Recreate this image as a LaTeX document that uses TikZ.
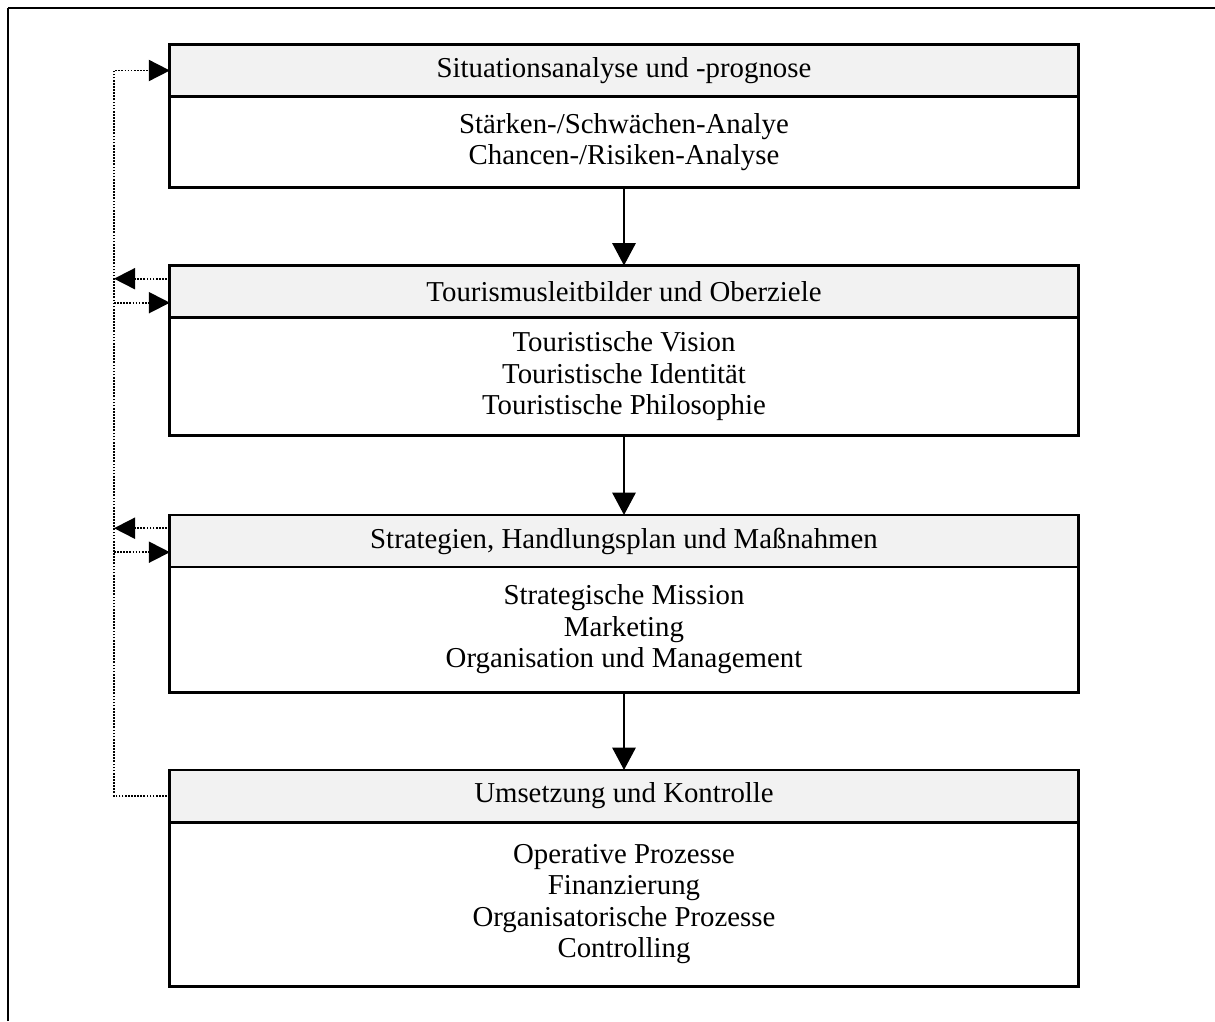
\documentclass[tikz,border=0pt]{standalone}
\usepackage{fontspec}
\setmainfont{Liberation Serif}
\usetikzlibrary{arrows.meta}
\usetikzlibrary{positioning}
\tikzset{
	%	box/.style={rectangle,draw,thick},
	head/.style={rectangle,draw,line width=2.1pt,fill=gray!10,outer sep=0pt,minimum width=22.7cm,minimum height=1.3cm,font=\fontsize{20.5}{22.4}\selectfont},
	body/.style={rectangle,draw,line width=2.1pt,outer sep=0pt,minimum width=22.7cm,align=center,font=\fontsize{20.5}{22.4}\selectfont},
	flow/.style={-{Triangle[length=16pt,width=16.5pt]},line width=2pt},
	back/.style={-{Triangle[length=15pt,width=15pt]},line width=1.3pt,dash pattern=on 1.2pt off 1pt}
}

\begin{document}
\begin{tikzpicture}[x=0.025cm,y=-0.025cm]
	\useasboundingbox (0,0) rectangle (1215,1021);
	\draw[line width=1.4pt] (8,1021) -- (8,8);
	\draw[line width=2pt] (8,8) -- (1215,8);
	
	\node[head] (sit) at (624,70.5) {Situationsanalyse und -prognose};
	\node[body,minimum height=2.275cm,below=0pt of sit] (sitbody) {Stärken-/Schwächen-Analye\\Chancen-/Risiken-Analyse};
	
	\node[head] (tour) at (624,291.5) {Tourismusleitbilder und Oberziele};
	\node[body,minimum height=2.94cm,below=0pt of tour] (tourbody) {Touristische Vision\\Touristische Identität\\Touristische Philosophie};
	
	\node[head] (strat) at (624,541) {Strategien, Handlungsplan und Maßnahmen};
	\node[body,minimum height=3.125cm,below=0pt of strat] (stratbody) {Strategische Mission\\Marketing\\Organisation und Management};
	
	\node[head] (umse) at (624,796) {Umsetzung und Kontrolle};
	\node[body,minimum height=4.1cm,below=0pt of umse] (umsebody) {Operative Prozesse\\Finanzierung\\Organisatorische Prozesse\\Controlling};
	
	\draw[flow] (sitbody) -- (tour);
	\draw[flow] (tourbody) -- (strat);
	\draw[flow] (stratbody) -- (umse);
	
	% Rueckkopplung
	\coordinate (rail) at (114,70.5);
	\coordinate (tourout) at ([yshift=3.2mm]tour.west);
	\coordinate (tourin) at ([yshift=-2.8mm]tour.west);
	\coordinate (stratout) at ([yshift=3.2mm]strat.west);
	\coordinate (stratin) at ([yshift=-2.8mm]strat.west);
	
	\draw[back] (umse.west) -| (rail) -- (sit.west);
	\draw[back] (tourout) -- (tourout -| rail);
	\draw[back] (tourin -| rail) -- (tourin);
	\draw[back] (stratout) -- (stratout -| rail);
	\draw[back] (stratin -| rail) -- (stratin);
\end{tikzpicture}
\end{document}
